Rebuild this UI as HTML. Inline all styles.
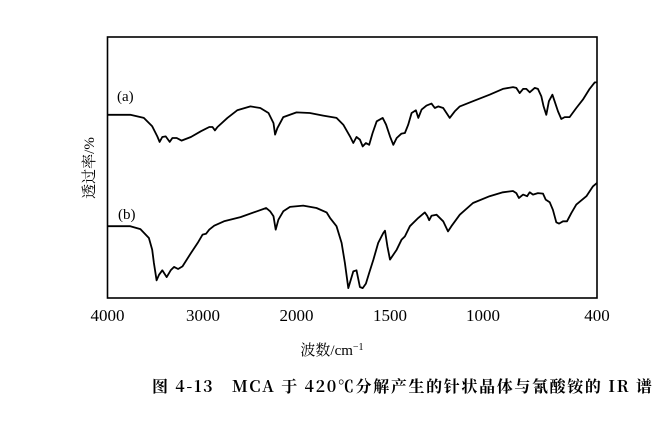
<!DOCTYPE html>
<html><head><meta charset="utf-8"><style>
body{margin:0;background:#fff;width:670px;height:419px;overflow:hidden}
svg text{font-family:"Liberation Serif","Noto Serif CJK SC",serif;fill:#000}
</style></head><body>
<svg id="chart" width="670" height="419" xmlns="http://www.w3.org/2000/svg">
<rect x="107.5" y="37" width="489.5" height="261" fill="none" stroke="#000" stroke-width="1.6"/>
<g id="ticks"></g>
<g id="series"></g>
<text x="117" y="101" font-size="15">(a)</text>
<text x="118" y="219" font-size="15">(b)</text>
<text transform="translate(94,168) rotate(-90)" text-anchor="middle" font-size="15" font-family="'Noto Sans CJK SC',sans-serif">透过率/%</text>
<text x="332" y="355" text-anchor="middle" font-size="15" font-family="'Noto Sans CJK SC',sans-serif">波数/cm<tspan font-size="10" dy="-5">−1</tspan></text>
<text x="152" y="392" font-size="16" font-weight="bold" textLength="500" lengthAdjust="spacing" style="font-family:'Noto Serif CJK SC',serif">图 4-13　MCA 于 420℃分解产生的针状晶体与氰酸铵的 IR 谱</text>
</svg>
<script>
const tickLabels=[4000,3000,2000,1500,1000,400];
const wnA=[4000,3761,3620,3532,3479,3454,3426,3391,3349,3320,3275,3225,3127,3021,2933,2898,2873,2845,2739,2634,2493,2387,2299,2246,2229,2204,2141,2000,1929,1857,1786,1750,1714,1696,1679,1661,1646,1629,1611,1593,1571,1539,1521,1500,1482,1464,1438,1420,1402,1384,1361,1348,1330,1304,1277,1259,1241,1214,1179,1152,1125,1054,965,895,842,825,807,789,772,754,728,711,693,681,667,653,635,623,605,588,570,544,509,474,439,412,400];
const tA=[70.2,70.2,69.0,65.8,61.9,59.8,61.7,61.9,59.8,61.3,61.3,60.3,61.7,63.9,65.5,65.5,64.2,65.5,69.0,71.9,73.4,72.8,70.9,67.0,62.6,65.1,69.3,71.1,70.9,69.9,69.0,66.4,61.9,59.4,61.7,60.7,58.1,59.4,58.7,63.2,67.7,69.0,66.4,61.9,58.7,61.3,63.0,63.2,66.4,70.9,71.9,69.0,72.2,73.7,74.5,72.8,73.4,72.8,69.0,71.5,73.4,75.4,77.9,80.1,80.8,80.5,78.5,80.1,80.1,78.8,80.5,80.1,77.3,73.4,70.2,75.4,77.9,75.4,71.5,68.6,69.3,69.3,72.8,76.0,80.1,82.6,82.6];
const wnB=[4000,3761,3655,3567,3532,3514,3486,3461,3426,3380,3338,3303,3261,3215,3127,3056,3004,2968,2933,2880,2775,2599,2423,2324,2282,2246,2222,2194,2141,2070,1964,1893,1839,1821,1786,1759,1741,1723,1696,1679,1661,1646,1629,1611,1589,1563,1536,1527,1514,1500,1482,1464,1438,1420,1393,1348,1313,1300,1289,1277,1250,1214,1188,1170,1125,1054,965,895,842,825,811,789,768,754,737,711,684,670,649,632,614,600,579,558,535,509,456,421,400];
const tB=[27.5,27.5,26.4,23.0,18.5,13.4,6.8,8.9,10.6,8.0,10.6,11.9,11.1,12.1,17.2,21.1,24.3,24.6,26.2,27.7,29.4,31.0,33.2,34.5,33.2,31.3,26.2,30.0,33.2,34.9,35.4,34.5,32.8,30.7,27.5,21.1,13.4,3.8,10.2,10.6,4.2,3.8,5.5,9.6,14.7,21.1,24.9,25.8,19.8,14.7,16.6,18.5,22.3,23.6,27.5,30.7,32.8,31.5,29.8,31.5,31.9,29.4,25.5,27.5,31.9,36.4,39.0,40.5,41.0,40.2,38.3,39.6,39.0,40.5,39.6,40.2,40.0,37.7,36.7,33.8,29.0,28.5,29.4,29.4,32.6,35.8,39.0,42.8,44.1];
const axWn=[4000,3000,2000,1500,1000,400];
const axPx=[107.5,203,296.5,390,483,597];
function xs(w){for(let i=0;i<axWn.length-1;i++){const a=axWn[i],b=axWn[i+1];if(w<=a&&w>=b)return axPx[i]+(a-w)/(a-b)*(axPx[i+1]-axPx[i]);}return w>4000?axPx[0]:axPx[5];}
function ys(t){return 298-t/100*261;}
const NS="http://www.w3.org/2000/svg";
const tg=document.getElementById('ticks');
tickLabels.forEach(v=>{
  const t=document.createElementNS(NS,'text');
  
  
  t.setAttribute('x',xs(v));t.setAttribute('y',321);t.setAttribute('text-anchor','middle');t.setAttribute('font-size','17');
  t.textContent=v;tg.appendChild(t);
});
const sg=document.getElementById('series');
[[wnA,tA,'series-a-line'],[wnB,tB,'series-b-line']].forEach(([w,t,n])=>{
  const p=document.createElementNS(NS,'path');
  
  
  p.setAttribute('d',w.map((v,i)=>(i?'L':'M')+xs(v).toFixed(1)+' '+ys(t[i]).toFixed(1)).join(''));
  p.setAttribute('fill','none');p.setAttribute('stroke','#000');p.setAttribute('stroke-width','1.8');p.setAttribute('stroke-linejoin','round');
  sg.appendChild(p);
});
</script>
</body></html>
